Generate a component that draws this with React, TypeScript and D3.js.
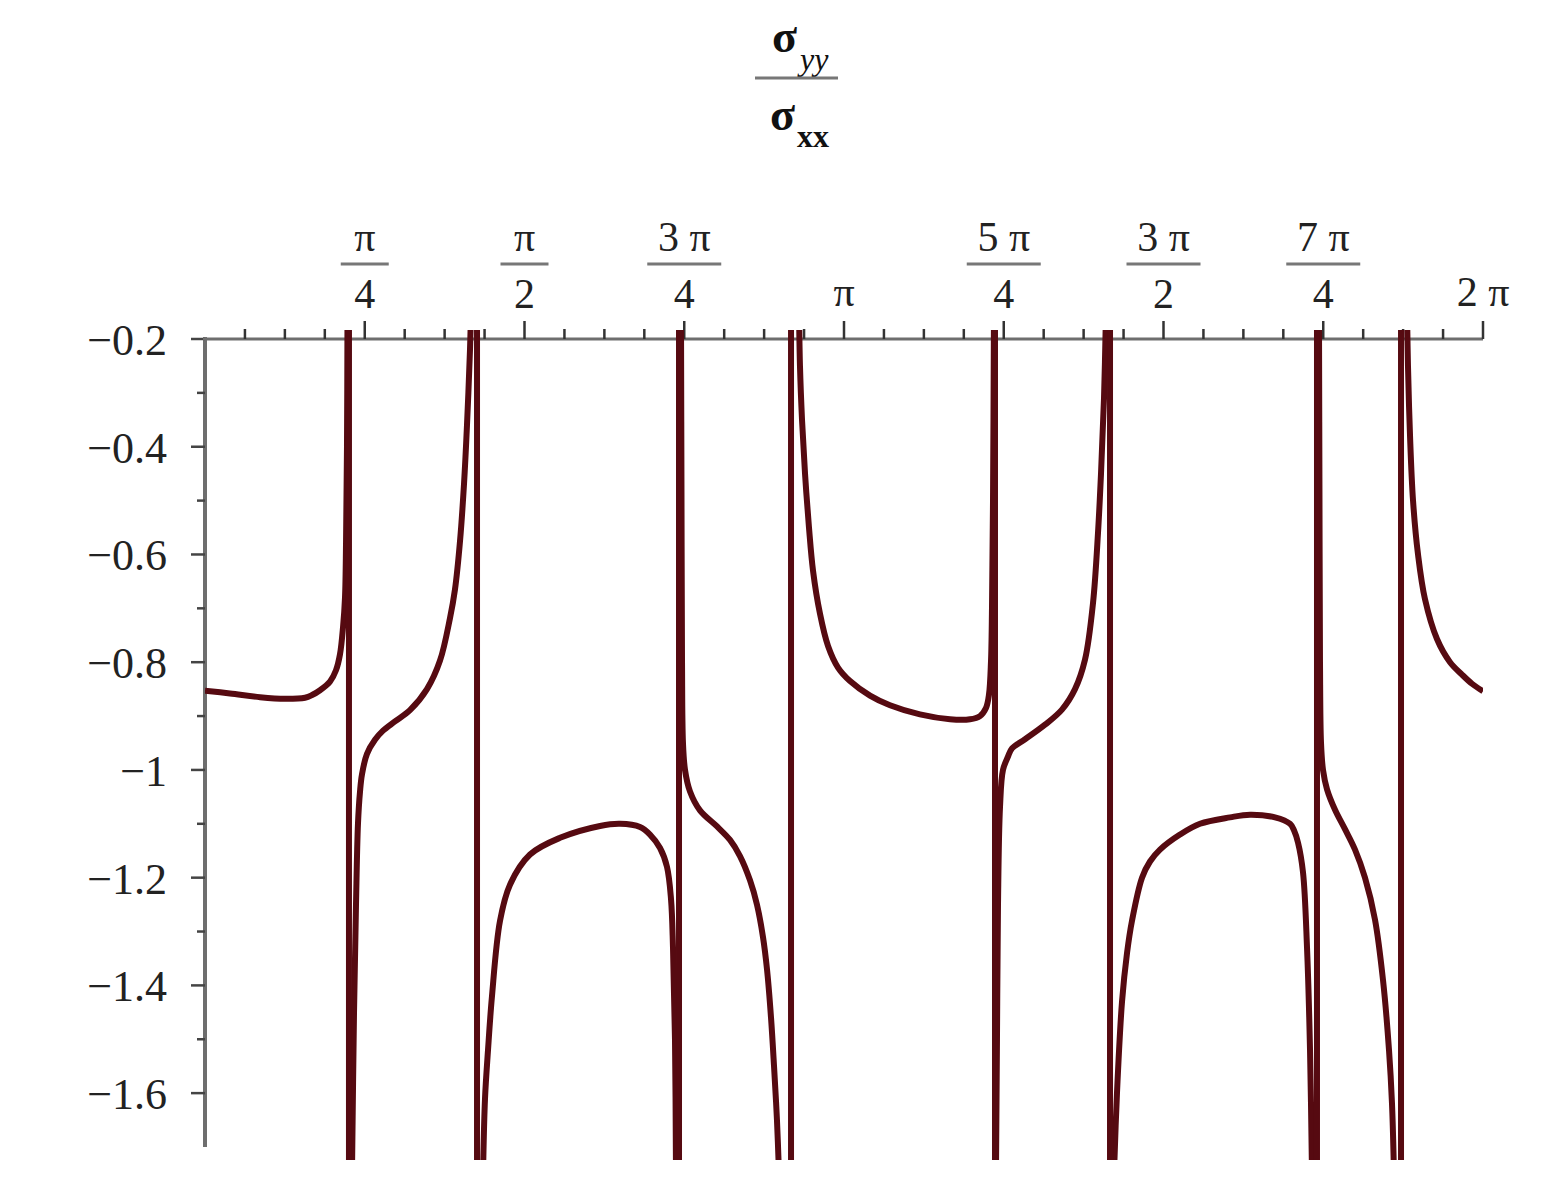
import React from 'react';
import * as d3 from 'd3';

// curve branches: [x in multiples of π, σyy/σxx]
const branchA = [[0, -0.853], [0.0391, -0.858], [0.0861, -0.865], [0.1252, -0.868], [0.1565, -0.866], [0.1675, -0.861], [0.18, -0.852], [0.1956, -0.836], [0.205, -0.815], [0.2113, -0.785], [0.216, -0.735], [0.2191, -0.68], [0.2207, -0.58], [0.2222, -0.4], [0.223, -0.15]];
const branchB = [[0.23, -1.75], [0.2332, -1.45], [0.2363, -1.25], [0.2394, -1.1], [0.2426, -1.04], [0.2457, -1.008], [0.2535, -0.97], [0.266, -0.944], [0.2786, -0.927], [0.2973, -0.91], [0.3208, -0.889], [0.3474, -0.85], [0.3678, -0.797], [0.3834, -0.718], [0.3912, -0.665], [0.3991, -0.575], [0.4053, -0.47], [0.41, -0.36], [0.4147, -0.22], [0.4163, -0.15]];
const branchC = [[0.4351, -1.75], [0.4382, -1.61], [0.4429, -1.52], [0.4491, -1.42], [0.4617, -1.28], [0.4773, -1.213], [0.5086, -1.157], [0.5556, -1.126], [0.6182, -1.104], [0.6495, -1.1], [0.6808, -1.106], [0.6964, -1.12], [0.7121, -1.145], [0.723, -1.18], [0.7293, -1.24], [0.7324, -1.33], [0.7355, -1.5], [0.7371, -1.75]];
const branchD = [[0.7449, -0.15], [0.7457, -0.5], [0.7465, -0.8], [0.748, -0.95], [0.7512, -1.0], [0.759, -1.04], [0.7746, -1.075], [0.8013, -1.105], [0.8216, -1.13], [0.8372, -1.16], [0.8529, -1.205], [0.8638, -1.25], [0.8732, -1.31], [0.8795, -1.37], [0.8858, -1.46], [0.8905, -1.55], [0.8951, -1.65], [0.8983, -1.75]];
const branchE = [[0.9296, -0.15], [0.9311, -0.25], [0.9343, -0.35], [0.939, -0.45], [0.9452, -0.55], [0.9515, -0.63], [0.9624, -0.71], [0.975, -0.77], [0.9906, -0.81], [1.0094, -0.835], [1.0407, -0.862], [1.072, -0.88], [1.1189, -0.897], [1.1659, -0.906], [1.1972, -0.906], [1.2128, -0.9], [1.2222, -0.885], [1.2269, -0.86], [1.23, -0.8], [1.2316, -0.7], [1.2332, -0.5], [1.2347, -0.15]];
const branchF = [[1.2378, -1.75], [1.2394, -1.5], [1.241, -1.25], [1.2441, -1.07], [1.2488, -1.0], [1.2567, -0.975], [1.2629, -0.96], [1.2833, -0.943], [1.3146, -0.916], [1.3411, -0.888], [1.3615, -0.85], [1.3772, -0.795], [1.3897, -0.69], [1.3975, -0.56], [1.4022, -0.45], [1.4069, -0.31], [1.41, -0.15]];
const branchG = [[1.4225, -1.75], [1.4272, -1.6], [1.4351, -1.43], [1.4429, -1.34], [1.4507, -1.28], [1.4664, -1.2], [1.4789, -1.17], [1.4945, -1.148], [1.5258, -1.12], [1.5571, -1.1], [1.6041, -1.088], [1.6354, -1.083], [1.6745, -1.088], [1.698, -1.1], [1.7042, -1.112], [1.7105, -1.135], [1.7183, -1.19], [1.7246, -1.33], [1.7293, -1.52], [1.7324, -1.75]];
const branchH = [[1.7433, -0.15], [1.7441, -0.5], [1.7449, -0.8], [1.7465, -0.95], [1.7496, -1.0], [1.7559, -1.036], [1.7684, -1.074], [1.784, -1.11], [1.7997, -1.148], [1.8153, -1.2], [1.831, -1.278], [1.8435, -1.39], [1.8529, -1.52], [1.8576, -1.62], [1.8607, -1.75]];
const branchI = [[1.8811, -0.15], [1.8826, -0.25], [1.8858, -0.38], [1.8905, -0.5], [1.8983, -0.6], [1.9092, -0.683], [1.928, -0.757], [1.9484, -0.8], [1.9671, -0.823], [1.9828, -0.84], [2.0, -0.854]];

const branches = [branchA, branchB, branchC, branchD, branchE, branchF, branchG, branchH, branchI];

// vertical jumps drawn where the curve crosses a pole
const poles = [0.2253, 0.4257, 0.7418, 0.9171, 1.2363, 1.4163, 1.7402, 1.8717];

const xTickLabels = [
  { v: 0.25, num: 'π', den: '4' },
  { v: 0.5, num: 'π', den: '2' },
  { v: 0.75, num: '3 π', den: '4' },
  { v: 1, num: 'π', den: '' },
  { v: 1.25, num: '5 π', den: '4' },
  { v: 1.5, num: '3 π', den: '2' },
  { v: 1.75, num: '7 π', den: '4' },
  { v: 2, num: '2 π', den: '' },
];
const yMajor = [-0.2, -0.4, -0.6, -0.8, -1, -1.2, -1.4, -1.6];
const yMinor = [-0.3, -0.5, -0.7, -0.9, -1.1, -1.3, -1.5];

const CURVE = '#560a11';
const AXIS = '#6e6e6e';
const FONT = '"Liberation Serif", "Times New Roman", serif';

export default function App() {
  const width = 1546, height = 1190;
  const x = d3.scaleLinear().domain([0, 2]).range([205, 1483]);
  const y = d3.scaleLinear().domain([-0.2, -1.7]).range([339, 1147]);
  const top = y(-0.2), bottom = y(-1.7);

  const line = d3.line<number[]>()
    .x(d => x(d[0]))
    .y(d => y(d[1]))
    .curve(d3.curveCatmullRom.alpha(0.5));

  const xMinor = d3.range(1, 32).filter(n => n % 4 !== 0).map(n => n / 16);
  const fmt = (v: number) => (v < 0 ? '\u2212' : '') + d3.format('')(Math.abs(v));

  return (
    <svg width={width} height={height}
      style={{ position: 'absolute', left: 0, top: 0, background: 'white' }}>
      <defs>
        <clipPath id="plot">
          <rect x={x(0)} y={top - 9} width={x(2) - x(0)} height={bottom - top + 22} />
        </clipPath>
      </defs>

      {/* title */}
      <g fontFamily={FONT} fill="#111">
        <text x={772} y={52} fontSize={46} fontWeight="bold">σ</text>
        <text x={800} y={70} fontSize={32} fontStyle="italic">yy</text>
        <line x1={755} x2={838} y1={78} y2={78} stroke="#777" strokeWidth={3} />
        <text x={770} y={130} fontSize={46} fontWeight="bold">σ</text>
        <text x={797} y={147} fontSize={32} fontWeight="bold">xx</text>
      </g>

      {/* y axis */}
      <line x1={x(0)} x2={x(0)} y1={top - 2} y2={bottom} stroke={AXIS} strokeWidth={4} />
      {yMajor.map(v => (
        <g key={'ym' + v}>
          <line x1={x(0) - 14} x2={x(0)} y1={y(v)} y2={y(v)} stroke="#444" strokeWidth={2.5} />
          <text x={167} y={y(v) + 16} fontSize={44} fontFamily={FONT} textAnchor="end" fill="#222">
            {fmt(v)}
          </text>
        </g>
      ))}
      {yMinor.map(v => (
        <line key={'yn' + v} x1={x(0) - 8} x2={x(0)} y1={y(v)} y2={y(v)} stroke="#444" strokeWidth={2.5} />
      ))}

      {/* x axis along the top */}
      <line x1={x(0) - 2} x2={x(2)} y1={top} y2={top} stroke={AXIS} strokeWidth={3} />
      {xMinor.map(v => (
        <line key={'xn' + v} x1={x(v)} x2={x(v)} y1={top - 10} y2={top} stroke="#333" strokeWidth={2.5} />
      ))}
      {xTickLabels.map(t => (
        <g key={'xm' + t.v} fontFamily={FONT} fill="#222" textAnchor="middle">
          <line x1={x(t.v)} x2={x(t.v)} y1={top - 18} y2={top} stroke="#333" strokeWidth={2.5} />
          {t.den ? (
            <>
              <text x={x(t.v)} y={top - 88} fontSize={42}>{t.num}</text>
              <line x1={x(t.v) - (t.num.length > 1 ? 37 : 24)} x2={x(t.v) + (t.num.length > 1 ? 37 : 24)}
                y1={top - 75} y2={top - 75} stroke="#777" strokeWidth={3} />
              <text x={x(t.v)} y={top - 31} fontSize={42}>{t.den}</text>
            </>
          ) : (
            <text x={x(t.v)} y={top - 33} fontSize={42}>{t.num}</text>
          )}
        </g>
      ))}

      {/* curve */}
      <g clipPath="url(#plot)" fill="none" stroke={CURVE} strokeWidth={6} strokeLinejoin="round">
        {branches.map((b, i) => <path key={'b' + i} d={line(b) || ''} />)}
        {poles.map(p => (
          <line key={'p' + p} x1={x(p)} x2={x(p)} y1={top - 12} y2={bottom + 14} />
        ))}
      </g>
    </svg>
  );
}
